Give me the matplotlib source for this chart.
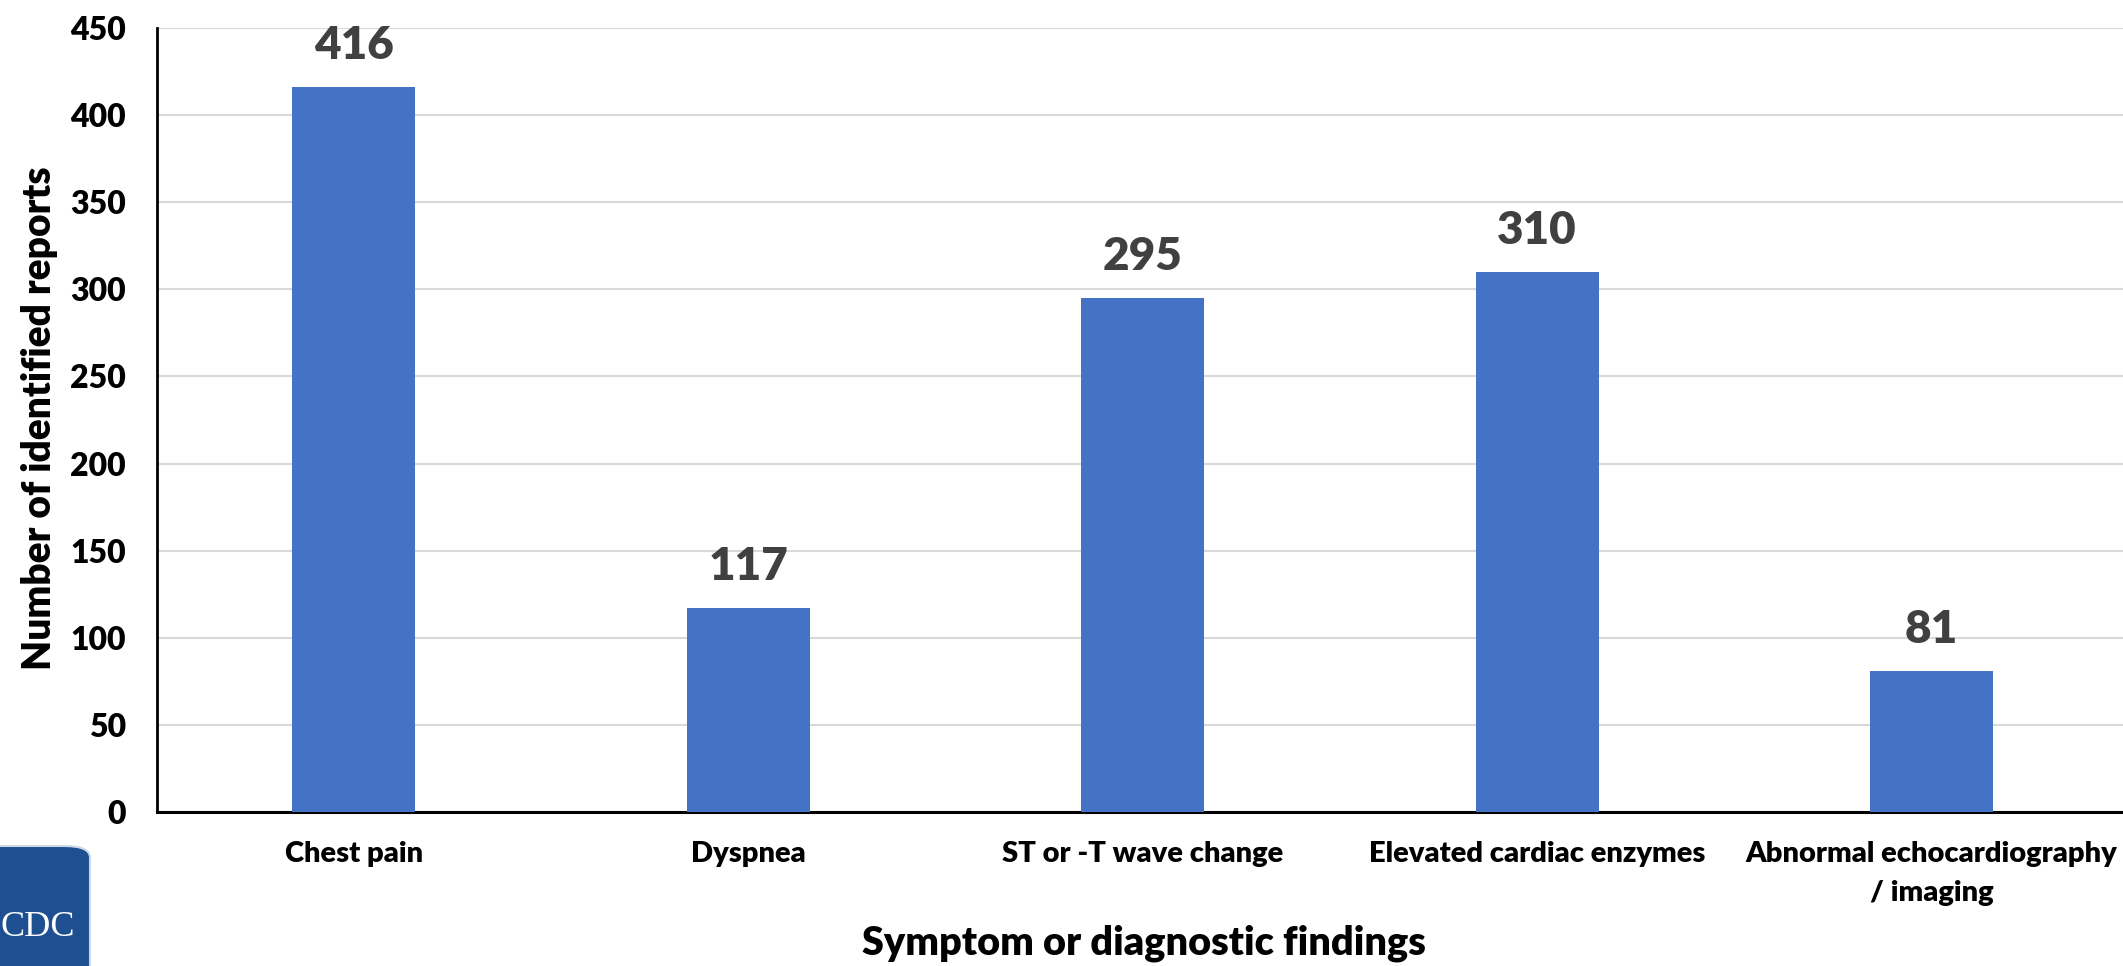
import matplotlib
matplotlib.use("Agg")
import matplotlib.pyplot as plt
from matplotlib.patches import FancyBboxPatch

categories = ["Chest pain", "Dyspnea", "ST or -T wave change",
              "Elevated cardiac enzymes", "Abnormal echocardiography\n/ imaging"]
values = [416, 117, 295, 310, 81]
yticks = [0, 50, 100, 150, 200, 250, 300, 350, 400, 450]

plt.rcParams['font.family'] = ['Lato', 'DejaVu Sans']
W = "heavy"

fig = plt.figure(figsize=(21.23, 9.66), dpi=100)
ax = fig.add_axes([156.5/2123, 1-812/966, 1972.25/2123, 784/966])

x = list(range(len(categories)))
bars = ax.bar(x, values, width=0.312, color="#4472C4", zorder=3)
for xi, v in zip(x, values):
    ax.text(xi, v + 12, str(v), ha="center", va="bottom", fontsize=33,
            fontweight=W, color="#404040")

ax.set_xlim(-0.5, 4.5)
ax.set_ylim(0, 450)
ax.set_yticks(yticks)
ax.set_yticklabels([str(t) for t in yticks], fontsize=23, fontweight=W)
ax.set_xticks(x)
ax.set_xticklabels(categories, fontsize=21, fontweight=W, linespacing=1.6)
ax.tick_params(axis="x", length=0, pad=21)
ax.tick_params(axis="y", length=0, pad=22)
ax.yaxis.grid(True, color="#d9d9d9", linewidth=1.5, zorder=0)
for s in ["top", "right"]:
    ax.spines[s].set_visible(False)
ax.spines["left"].set_linewidth(2)
ax.spines["bottom"].set_linewidth(2.2)

fig.text(40/2123, 1-418/966, "Number of identified reports", rotation=90,
         ha="center", va="center", fontsize=28, fontweight=W)
fig.text(1144/2123, 1-943/966, "Symptom or diagnostic findings",
         ha="center", va="center", fontsize=28.5, fontweight=W)

# CDC logo (partial, bottom-left)
logo = FancyBboxPatch((-30/2123, -20/966), 120/2123, 140/966,
                      boxstyle="round,pad=0,rounding_size=0.012",
                      transform=fig.transFigure, facecolor="#1d4f91",
                      edgecolor="#cfd8e6", linewidth=1.5)
fig.patches.append(logo)
fig.text(38/2123, 1-927/966, "CDC", ha="center", va="center", fontsize=26,
         color="white", family="Liberation Serif")

fig.savefig("out.png", dpi=100)
